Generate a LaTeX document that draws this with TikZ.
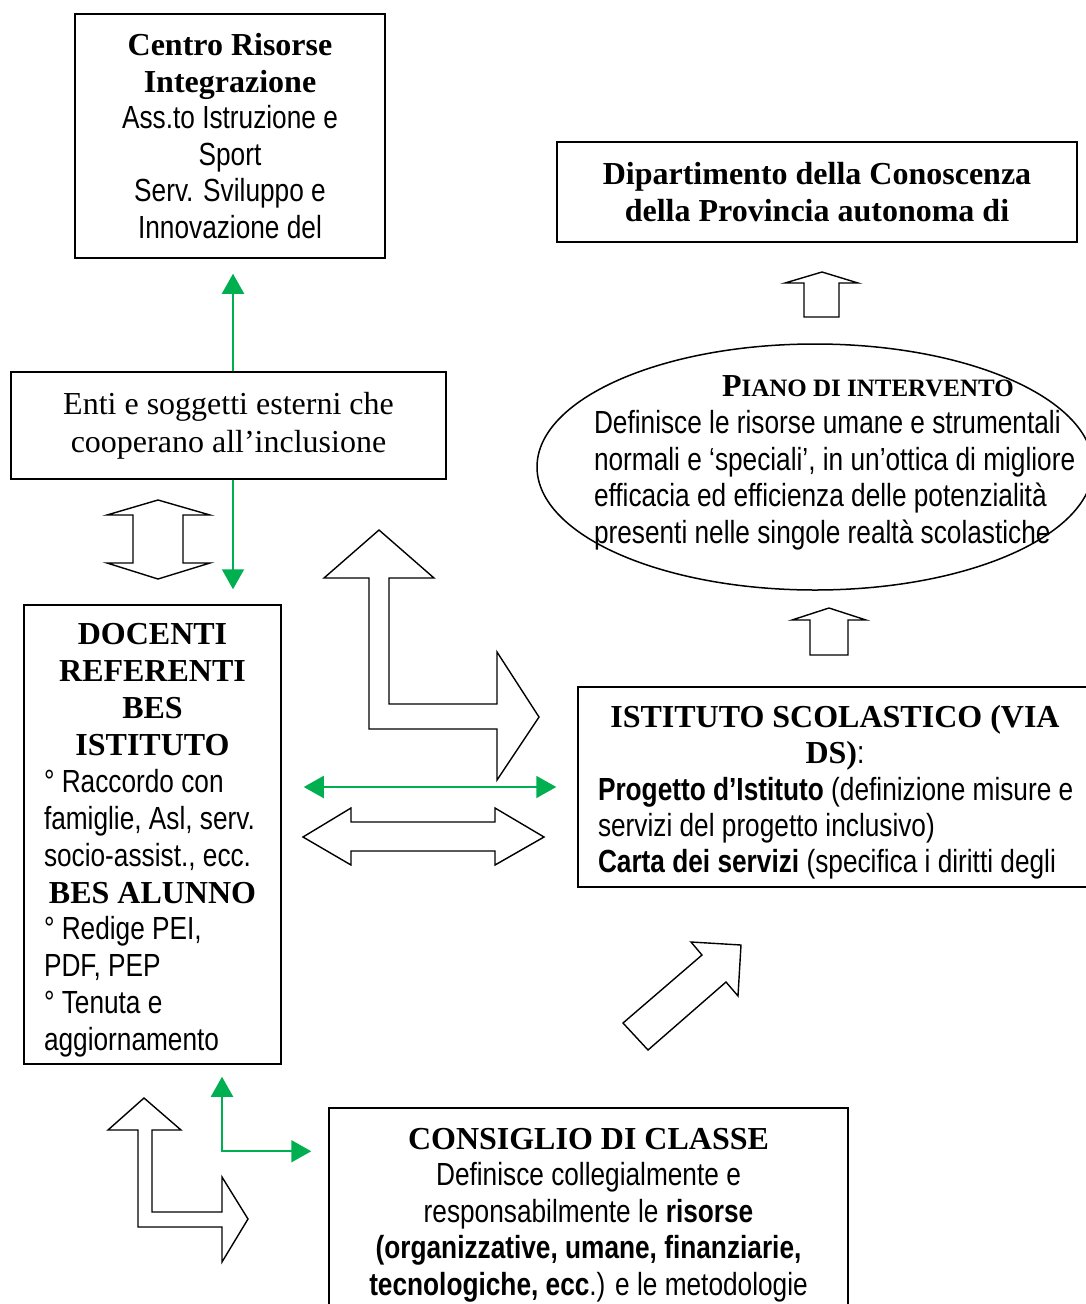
\documentclass[tikz,border=0pt]{standalone}
\usepackage{fontspec}
\setmainfont{Liberation Serif}
\newfontfamily\narrowsans[FakeStretch=0.82]{Liberation Sans}
\usetikzlibrary{arrows.meta,calc,shapes.geometric}
\definecolor{ogreen}{HTML}{00B050}
\newcommand\ns[1]{{\narrowsans #1}}
\newcommand\nsb[1]{{\narrowsans\bfseries #1}}
\newcommand\lline[2]{\makebox[#1][l]{\narrowsans #2}}
\newcommand\topstrut[1]{\rule{0pt}{#1}}
\tikzset{
  box/.style={draw, line width=1.5pt, inner sep=0pt, align=center,
    font=\fontsize{32}{36.5}\selectfont},
  garrow/.style={draw=ogreen, line width=2pt, -{Triangle[width=22pt,length=20pt]}},
  gboth/.style={draw=ogreen, line width=2pt,
    {Triangle[width=22pt,length=20pt]}-{Triangle[width=22pt,length=20pt]}},
  blockarrow/.style={draw, line width=1.4pt, fill=white, line join=miter},
}
\begin{document}
\begin{tikzpicture}[x=1pt,y=-1pt]
\useasboundingbox (0,0) rectangle (1086,1304);
% caselle
\node[box,minimum width=310pt,minimum height=244pt] (centro) at (230,136)
  {\textbf{Centro Risorse}\\\textbf{Integrazione}\\\ns{Ass.to Istruzione e}\\
   \ns{Sport}\\\ns{Serv. Sviluppo e}\\\ns{Innovazione del}};
\node[box,minimum width=520pt,minimum height=100pt] (dip) at (817,192)
  {\textbf{Dipartimento della Conoscenza}\\\textbf{della Provincia autonoma di}};
\node[box,minimum width=435pt,minimum height=107pt,
  font=\fontsize{32}{38}\selectfont] (enti) at (228.5,425.5)
  {Enti e soggetti esterni che\\cooperano all'inclusione};
\node[box,minimum width=257pt,minimum height=459pt,
  font=\fontsize{32}{36.9}\selectfont] (docenti) at (152.5,834.5)
  {\topstrut{33pt}\textbf{DOCENTI}\\\textbf{REFERENTI}\\\textbf{BES}\\\textbf{ISTITUTO}\\
   \lline{217pt}{° Raccordo con}\\\lline{217pt}{famiglie, Asl, serv.}\\
   \lline{217pt}{socio-assist., ecc.}\\\textbf{BES ALUNNO}\\
   \lline{217pt}{° Redige PEI,}\\\lline{217pt}{PDF, PEP}\\
   \lline{217pt}{° Tenuta e}\\\lline{217pt}{aggiornamento}};
\node[box,minimum width=514pt,minimum height=200pt,
  font=\fontsize{32}{36.3}\selectfont] (istituto) at (835,787)
  {\topstrut{33pt}\textbf{ISTITUTO SCOLASTICO (VIA}\\\textbf{DS)}\ns{:}\\
   \lline{474pt}{\bfseries Progetto d’Istituto \mdseries(definizione misure e}\\
   \lline{474pt}{servizi del progetto inclusivo)}\\
   \lline{474pt}{\bfseries Carta dei servizi \mdseries(specifica i diritti degli}};
\node[box,minimum width=519pt,minimum height=206pt] (consiglio) at (588.5,1211)
  {\topstrut{29pt}\textbf{CONSIGLIO DI CLASSE}\\\ns{Definisce collegialmente e}\\
   \ns{responsabilmente le \bfseries risorse}\\
   \nsb{(organizzative, umane, finanziarie,}\\
   \ns{\bfseries tecnologiche, ecc\mdseries.) e le metodologie}};
\node[draw,ellipse,line width=1.5pt,inner sep=0pt,minimum width=556pt,
  minimum height=246pt] (piano) at (815,467) {};
\node[align=center,inner sep=0pt,font=\fontsize{32}{36.75}\selectfont]
  (pianotxt) at (834.5,463)
  {\makebox[481pt][l]{\hspace{128pt}\textbf{P\fontsize{25}{36.75}\selectfont IANO DI INTERVENTO}}\\
   \lline{481pt}{Definisce le risorse umane e strumentali}\\
   \lline{481pt}{normali e ‘speciali’, in un’ottica di migliore}\\
   \lline{481pt}{efficacia ed efficienza delle potenzialità}\\
   \lline{481pt}{presenti nelle singole realtà scolastiche}};
% frecce vuote
\draw[blockarrow] (158,500) -- (210,515) -- (183,515) -- (183,563) -- (210,563)
  -- (158,579) -- (107,563) -- (133,563) -- (133,515) -- (107,515) -- cycle;
\draw[blockarrow] (379,530) -- (434,578) -- (389,578) -- (389,704) -- (497,704)
  -- (497,652) -- (539,717) -- (497,780) -- (497,729) -- (369,729) -- (369,578)
  -- (324,578) -- cycle;
\draw[blockarrow] (303,837) -- (351,808) -- (351,822) -- (495,822) -- (495,808)
  -- (544,837) -- (495,865) -- (495,851) -- (351,851) -- (351,865) -- cycle;
\draw[blockarrow] (144,1098) -- (181,1130) -- (152,1130) -- (152,1212) -- (222,1212)
  -- (222,1177) -- (248,1219) -- (222,1262) -- (222,1227) -- (138,1227)
  -- (138,1130) -- (108,1130) -- cycle;
\draw[blockarrow] (623,1023) -- (702,955) -- (691,942) -- (741,945) -- (738,996)
  -- (726,982) -- (648,1050) -- cycle;
\draw[blockarrow] (822,272) -- (858,283) -- (839,283) -- (839,317) -- (804,317)
  -- (804,283) -- (785,283) -- cycle;
\draw[blockarrow] (829,608) -- (866,620) -- (848,620) -- (848,655) -- (810,655)
  -- (810,620) -- (792,620) -- cycle;
% frecce verdi
\draw[garrow] ($(enti.north)+(4.5,0)$) -- ($(centro.south)+(3,15)$);
\draw[garrow] ($(enti.south)+(4.5,0)$) -- ($(docenti.north -| enti.south)+(4.5,-15)$);
\draw[gboth] ($(docenti.east |- istituto.west)+(22,0)$) -- ($(istituto.west)+(-21,0)$);
\draw[gboth] ($(docenti.south)+(69.5,12)$) |- ($(consiglio.north west)+(-17,44)$);
\end{tikzpicture}
\end{document}
